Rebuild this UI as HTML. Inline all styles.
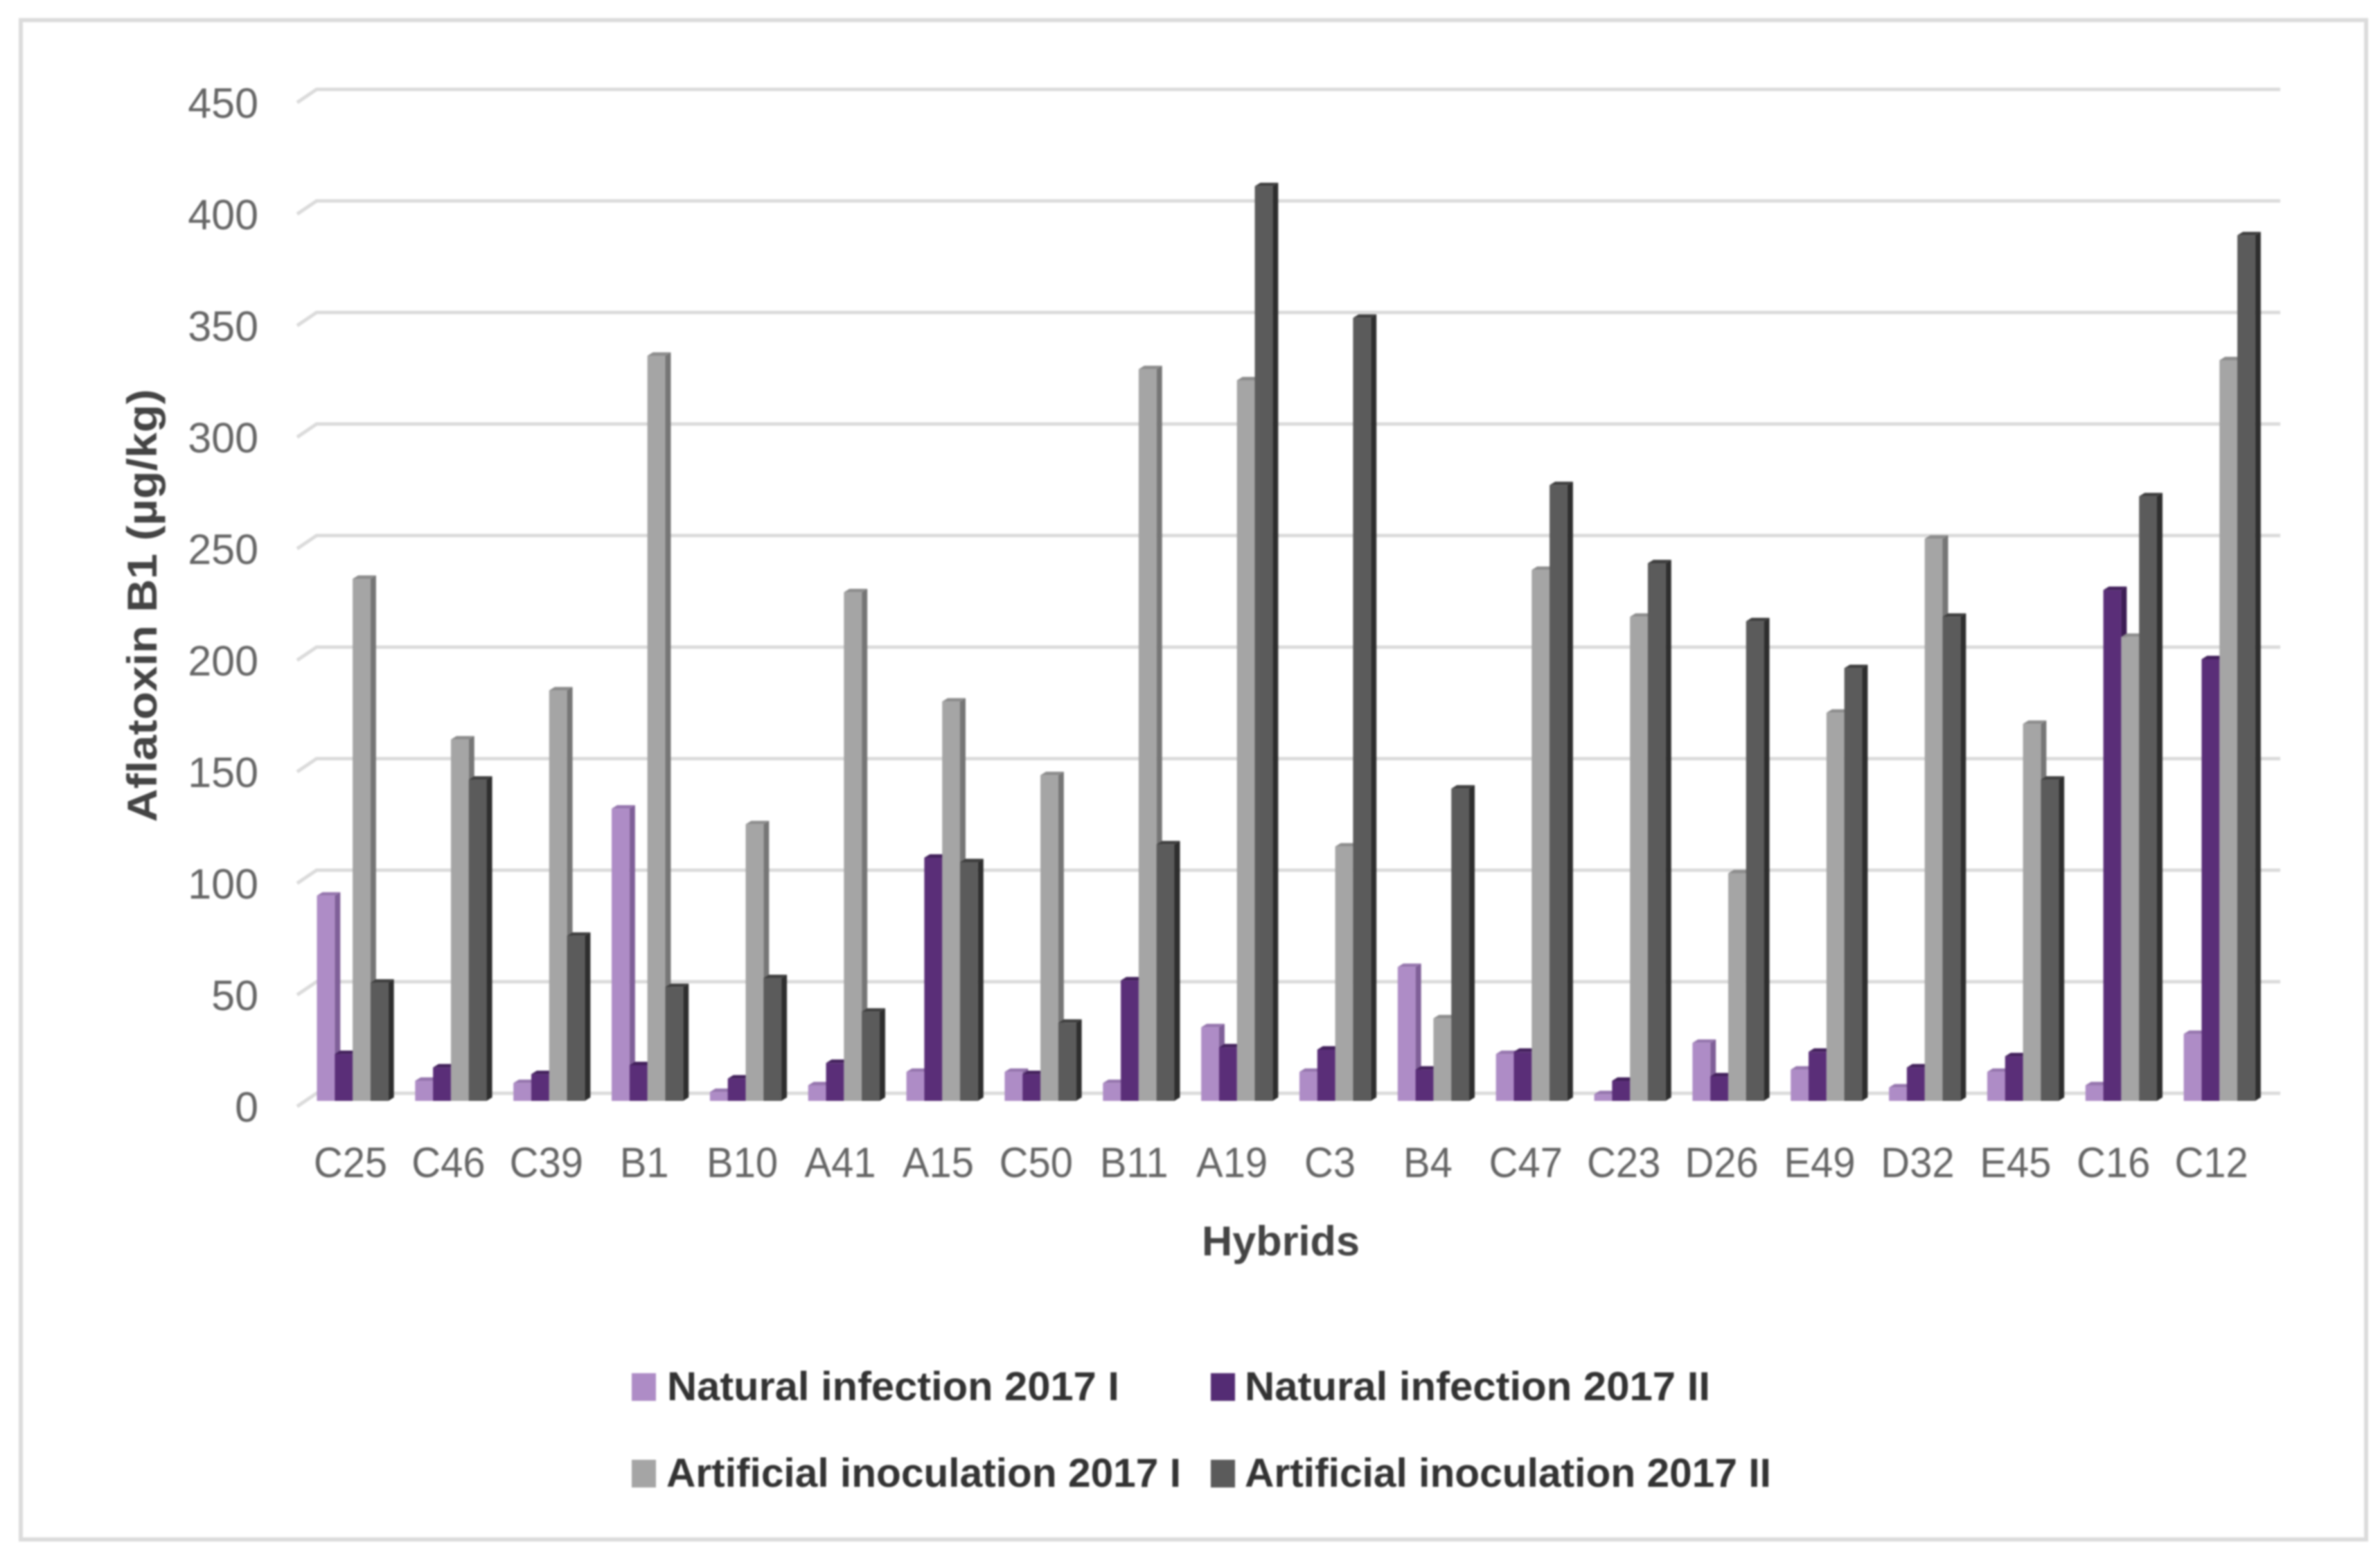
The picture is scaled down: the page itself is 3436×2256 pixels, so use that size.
<!DOCTYPE html>
<html lang="en">
<head>
<meta charset="utf-8">
<title>Aflatoxin B1 by hybrid</title>
<style>
html,body{margin:0;padding:0;background:#fff;width:3436px;height:2256px;overflow:hidden}
svg{display:block;filter:blur(1.2px)}
text{font-family:"Liberation Sans",sans-serif}
.tick{font-size:61px;fill:#666}
.title{font-size:60px;font-weight:bold;fill:#444}
.legend{font-size:58px;font-weight:bold;fill:#333}
</style>
</head>
<body>
<svg id="chart" xmlns="http://www.w3.org/2000/svg" width="3436" height="2256" viewBox="0 0 3436 2256">
  <rect x="30" y="29" width="3386" height="2193" fill="#fff" stroke="#dcdcdc" stroke-width="6"/>
  <g id="grid"></g>
  <g id="yticks"></g>
  <g id="bars"></g>
  <g id="xticks"></g>
  <text class="title" transform="translate(226,874) rotate(-90)" text-anchor="middle" textLength="625" lengthAdjust="spacingAndGlyphs">Aflatoxin B1 (µg/kg)</text>
  <text class="title" x="1849" y="1812" text-anchor="middle" textLength="228" lengthAdjust="spacingAndGlyphs">Hybrids</text>
  <g>
    <g>
      <rect x="912" y="1982" width="35" height="40" fill="#ae8cc6"/>
      <text class="legend" x="963" y="2021" textLength="653" lengthAdjust="spacingAndGlyphs">Natural infection 2017 I</text>
    </g>
    <g>
      <rect x="1748" y="1982" width="35" height="40" fill="#542c74"/>
      <text class="legend" x="1797" y="2021" textLength="672" lengthAdjust="spacingAndGlyphs">Natural infection 2017 II</text>
    </g>
    <g>
      <rect x="912" y="2107" width="35" height="40" fill="#a5a5a5"/>
      <text class="legend" x="962" y="2146" textLength="743" lengthAdjust="spacingAndGlyphs">Artificial inoculation 2017 I</text>
    </g>
    <g>
      <rect x="1748" y="2107" width="35" height="40" fill="#5b5b5b"/>
      <text class="legend" x="1797" y="2146" textLength="760" lengthAdjust="spacingAndGlyphs">Artificial inoculation 2017 II</text>
    </g>
  </g>
</svg>
<script>
const categories = ["C25","C46","C39","B1","B10","A41","A15","C50","B11","A19","C3","B4","C47","C23","D26","E49","D32","E45","C16","C12"];
const naturalInfection2017I = [92,9,8,131,4,7,13,13,8,33,13,60,21,3,26,14,6,13,7,30];
const naturalInfection2017II = [21,15,12,16,10,17,109,12,54,24,23,14,22,9,11,22,15,20,229,198];
const artificialInoculation2017I = [234,162,184,334,124,228,179,146,328,323,114,37,238,217,102,174,252,169,208,332];
const artificialInoculation2017II = [53,144,74,51,55,40,107,35,115,410,351,140,276,241,215,194,217,144,271,388];
const yTicks = [0,50,100,150,200,250,300,350,400,450];

const NS = "http://www.w3.org/2000/svg";
const PX_PER_UNIT = 3.22;
function gridY(v){ return 1578 - v * PX_PER_UNIT; }
function frontY(v){ return 1589 - v * PX_PER_UNIT; }
function labelY(v){ return 1619 - v * PX_PER_UNIT; }
function groupX(i){ return 457.5 + i * 141.85; }
function labelX(i){ return 506 + i * 141.4; }
function make(tag, attrs, parent){
  const el = document.createElementNS(NS, tag);
  for (const k in attrs) el.setAttribute(k, attrs[k]);
  parent.appendChild(el);
  return el;
}

const gridLayer = document.getElementById("grid");
const yLayer = document.getElementById("yticks");
yTicks.forEach(function(t){
  const g = gridY(t);
  const line = make("polyline", {points: "429," + (g + 19) + " 457," + g + " 3292," + g, fill: "none", stroke: "#dbdbdb", "stroke-width": 5}, gridLayer);
  
  
  const label = make("text", {x: 373, y: labelY(t), "text-anchor": "end", "class": "tick"}, yLayer);
  
  
  label.textContent = t;
});

const seriesNames = ["natural-2017-i","natural-2017-ii","artificial-2017-i","artificial-2017-ii"];
const seriesValues = [naturalInfection2017I, naturalInfection2017II, artificialInoculation2017I, artificialInoculation2017II];
const frontColors = ["#ae8cc6","#5a2e78","#a5a5a5","#5b5b5b"];
const topColors = ["#9676ae","#43215c","#8d8d8d","#3f3f3f"];
const sideColors = ["#7f5f98","#3d1d54","#767676","#2e2e2e"];
const barLayer = document.getElementById("bars");
const BAR_W = 25.8, DX = 8, DY = 5;

categories.forEach(function(cat, i){
  seriesValues.forEach(function(vals, s){
    const x = groupX(i) + s * BAR_W;
    const y = frontY(vals[i]);
    const base = frontY(0);
    const bar = make("g", {}, barLayer);
    
    
    make("polygon", {points: (x + BAR_W) + "," + y + " " + (x + BAR_W + DX) + "," + (y - DY) + " " + (x + BAR_W + DX) + "," + (base - DY) + " " + (x + BAR_W) + "," + base, fill: sideColors[s]}, bar);
    make("polygon", {points: x + "," + y + " " + (x + DX) + "," + (y - DY) + " " + (x + BAR_W + DX) + "," + (y - DY) + " " + (x + BAR_W) + "," + y, fill: topColors[s]}, bar);
    make("rect", {x: x, y: y, width: BAR_W, height: base - y, fill: frontColors[s]}, bar);
  });
});

const xLayer = document.getElementById("xticks");
categories.forEach(function(cat, i){
  const label = make("text", {transform: "translate(" + labelX(i) + ",1699) scale(0.95,1)", "text-anchor": "middle", "class": "tick"}, xLayer);
  
  
  label.textContent = cat;
});
</script>
</body>
</html>
